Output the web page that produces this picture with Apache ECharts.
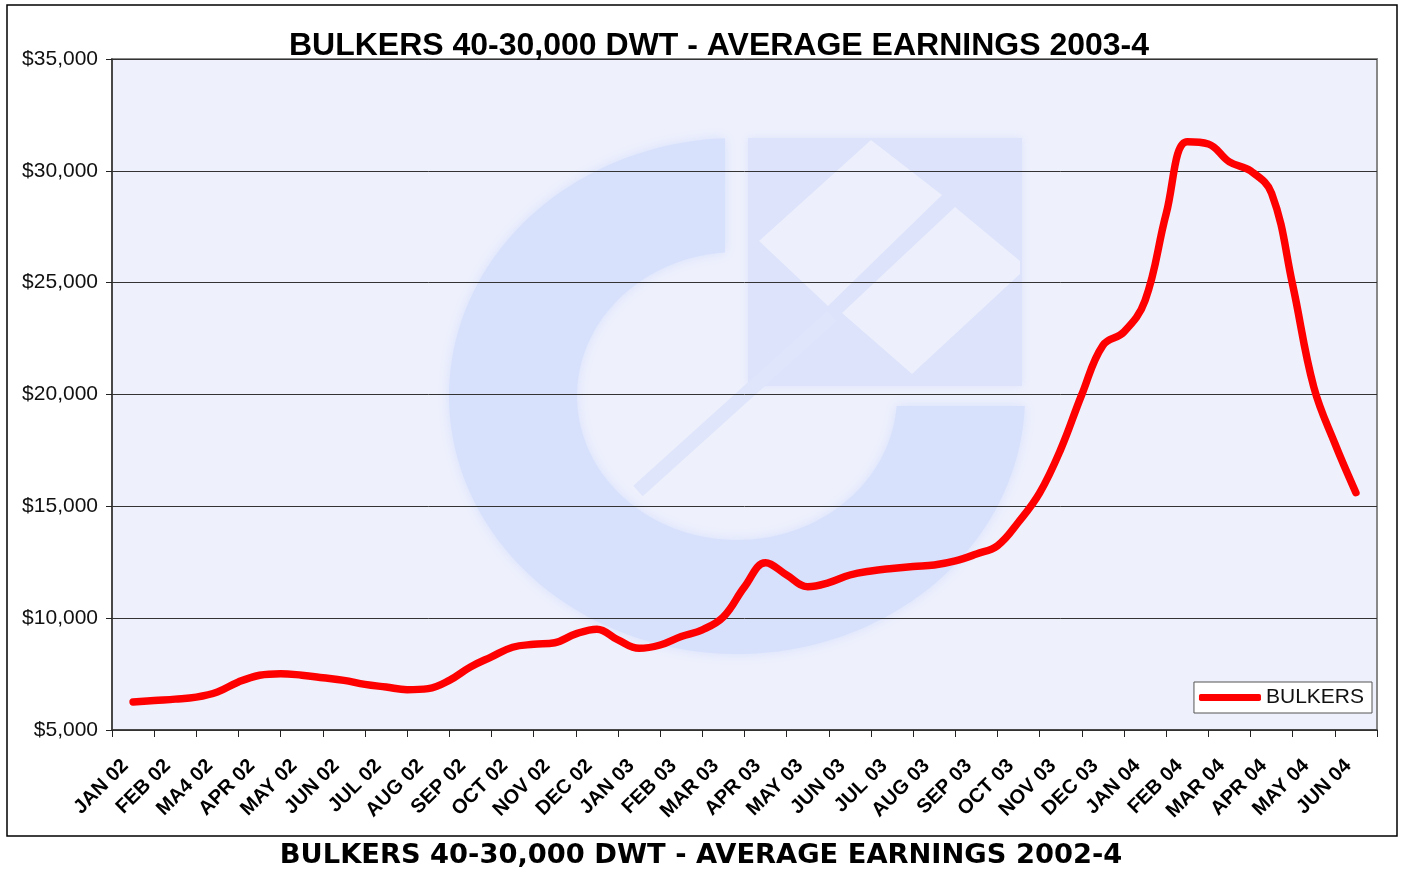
<!DOCTYPE html>
<html>
<head>
<meta charset="utf-8">
<script src="https://cdn.jsdelivr.net/npm/echarts@6/dist/echarts.min.js"></script>
<style>
  html, body { margin: 0; padding: 0; background: #fff; }
  #chart { width: 1402px; height: 870px; }
</style>
</head>
<body>
<div id="chart"></div>
<script>
// month labels on the x axis (as printed, typo included)
const months = ['JAN 02','FEB 02','MA4 02','APR 02','MAY 02','JUN 02','JUL 02','AUG 02',
    'SEP 02','OCT 02','NOV 02','DEC 02','JAN 03','FEB 03','MAR 03','APR 03','MAY 03',
    'JUN 03','JUL 03','AUG 03','SEP 03','OCT 03','NOV 03','DEC 03','JAN 04','FEB 04',
    'MAR 04','APR 04','MAY 04','JUN 04'];

// average earnings $/day, read twice a month (mid month, then month end)
const earnings = [
    6250, 6320, 6380, 6470, 6700, 7150, 7450, 7520, 7450, 7340,
    7220, 7040, 6920, 6800, 6850, 7220, 7820, 8270, 8700, 8830,
    8900, 9300, 9510, 9030, 8650, 8800, 9180, 9480, 10060, 11400,
    12480, 11930, 11410, 11590, 11930, 12110, 12220, 12310, 12380, 12560,
    12870, 13240, 14300, 15600, 17550, 20000, 22200, 22800, 24200, 28080,
    31300, 31200, 30400, 30000, 29000, 24900, 20340, 17810, 15610
];

const yTicks = { min: 5000, max: 35000, step: 5000 };

const titleText = 'BULKERS 40-30,000 DWT - AVERAGE EARNINGS 2003-4';
const footText = 'BULKERS 40-30,000 DWT - AVERAGE EARNINGS 2002-4';

// ---- watermark logo (decoration only) ----
function ellipseArc(cx, cy, rx, ry, a0, a1, n) {
    const pts = [];
    for (let k = 0; k <= n; k++) {
        const t = (a0 + (a1 - a0) * k / n) * Math.PI / 180;
        pts.push([cx + rx * Math.cos(t), cy + ry * Math.sin(t)]);
    }
    return pts;
}
function logoRing() {
    const cx = 737, cy = 396;
    const outer = ellipseArc(cx, cy, 288, 258, -92.4, -357.8, 120);
    const inner = ellipseArc(cx, cy, 160, 144, -356, -94.3, 120);
    return outer.concat(inner);
}

const ringColor = '#D7E1FC';
const logo = [
    { type: 'polygon', z: 1, shape: { points: logoRing() },
      style: { fill: ringColor, shadowBlur: 12, shadowColor: ringColor } },
    { type: 'rect', z: 1, shape: { x: 748, y: 138, width: 274, height: 248 },
      style: { fill: '#DCE3FB', shadowBlur: 8, shadowColor: '#DCE3FB' } },
    { type: 'polygon', z: 1, shape: { points: [[759, 241], [871, 140], [942, 195], [828, 306]] },
      style: { fill: '#EDF0FC' } },
    { type: 'polygon', z: 1, shape: { points: [[842, 313], [955, 207], [1020, 261], [1020, 274], [912, 374]] },
      style: { fill: '#EDF0FC' } },
    { type: 'line', z: 1, shape: { x1: 638, y1: 491, x2: 832, y2: 316 },
      style: { stroke: '#DFE5FB', lineWidth: 14 } }
];

const chart = echarts.init(document.getElementById('chart'));

const option = {
    backgroundColor: '#fff',
    animation: false,
    grid: {
        left: 112, top: 59, right: 25, bottom: 140,
        show: true,
        backgroundColor: '#EEF0FC',
        borderColor: '#888',
        borderWidth: 2
    },
    legend: {
        right: 30, top: 682,
        backgroundColor: '#fff',
        borderColor: '#555',
        borderWidth: 1,
        padding: [5, 8, 5, 5],
        icon: 'roundRect',
        itemWidth: 62,
        itemHeight: 7,
        itemGap: 4,
        textStyle: { fontFamily: 'Arial, "Liberation Sans"', fontSize: 21, color: '#111' },
        data: ['BULKERS']
    },
    xAxis: [{
        type: 'category',
        data: months,
        boundaryGap: true,
        z: 2,
        axisLine: { lineStyle: { color: '#333', width: 1.5 } },
        axisTick: { show: true, length: 7, alignWithLabel: false, interval: 0, lineStyle: { color: '#222' } },
        axisLabel: {
            interval: 0, rotate: 45, margin: 25,
            padding: [0, 11, 0, 0],
            fontFamily: 'Arial, "Liberation Sans"', fontWeight: 'bold', fontSize: 20, color: '#000'
        },
        splitLine: { show: false }
    }, {
        // hidden numeric twin so the twice-monthly readings sit between month centres
        type: 'value',
        show: false,
        min: -0.5,
        max: months.length - 0.5
    }],
    yAxis: {
        type: 'value',
        min: yTicks.min, max: yTicks.max, interval: yTicks.step,
        z: 2,
        axisLine: { show: true, onZero: false, lineStyle: { color: '#333', width: 1.5 } },
        axisTick: { show: true, length: 6, lineStyle: { color: '#222' } },
        axisLabel: {
            margin: 14,
            fontFamily: 'Arial, "Liberation Sans"', fontSize: 21, color: '#111',
            formatter: v => '$' + v.toLocaleString('en-US')
        },
        splitLine: { lineStyle: { color: '#333', width: 1 } }
    },
    series: [{
        name: 'BULKERS',
        type: 'line',
        xAxisIndex: 1,
        z: 3,
        smooth: 0.4,
        showSymbol: false,
        data: earnings.map((v, i) => [i / 2, v]),
        lineStyle: { color: '#FF0000', width: 7.5, cap: 'round', join: 'round' },
        itemStyle: { color: '#FF0000' }
    }],
    graphic: {
        elements: logo.concat([
            { type: 'rect', z: 5, shape: { x: 7, y: 5, width: 1390, height: 831 },
              style: { fill: 'none', stroke: '#000', lineWidth: 1.5 } },
            { type: 'text', z: 5, x: 719, y: 46,
              style: { text: titleText, font: 'bold 32px Arial, "Liberation Sans"',
                       textAlign: 'center', textVerticalAlign: 'middle', fill: '#000' } },
            { type: 'text', z: 5, x: 701, y: 856,
              style: { text: footText, font: 'bold 27.3px "DejaVu Sans"',
                       textAlign: 'center', textVerticalAlign: 'middle', fill: '#000' } }
        ])
    }
};

chart.setOption(option);
</script>
</body>
</html>
